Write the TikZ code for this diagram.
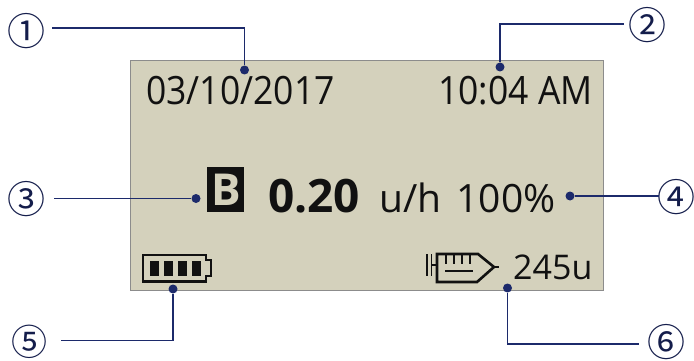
\documentclass[tikz,border=0pt]{standalone}
\usepackage{fontspec}
\setmainfont{Open Sans}
\newfontfamily\narrowfont[FakeStretch=0.91]{Open Sans}
\newfontfamily\circfont{Noto Sans CJK KR}
\definecolor{panel}{HTML}{D4D1BC}
\definecolor{navy}{HTML}{1C2A6B}
\definecolor{ink}{HTML}{111111}
\tikzset{
  callout/.style={font=\circfont\fontsize{38}{38}\selectfont,text=navy!70!black,inner sep=0pt,anchor=center},
  dotnode/.style={circle,fill=navy,inner sep=0pt,minimum size=9pt},
  leader/.style={draw=navy,line width=1.6pt},
  lcd/.style={inner sep=0pt,text=ink,anchor=base west,font=\narrowfont\fontsize{39}{39}\selectfont},
  icon/.style={draw=ink,line width=2.3pt},
}
\begin{document}
\begin{tikzpicture}[x=1pt,y=-1pt]
\useasboundingbox (0,0) rectangle (694,361);
\fill[panel,draw=black!45,line width=0.7pt] (130,60) rectangle (603.5,290);
\node[lcd] (date) at (146,105) {03/10/2017};
\node[lcd] (time) at (438,105) {10:04 AM};
\node[fill=ink,inner sep=0pt,minimum width=37pt,minimum height=45pt] (bbox) at (225.5,189.5) {};
\node[inner sep=0pt,text=panel,font=\bfseries\fontsize{44}{44}\selectfont] (b) at (226,190) {B};
\node[lcd,font=\bfseries\fontsize{46}{46}\selectfont] (rate) at (268,212) {0.20};
\node[lcd,font=\fontsize{39}{39}\selectfont] (unit) at (379,212) {u/h\hspace{5pt} 100\%};
\node[lcd,font=\fontsize{34}{34}\selectfont] (res) at (513,279) {245u};
% battery
\draw[icon] (143,255) -- (206,255) -- (206,260) -- (211,260) -- (211,276) -- (206,276) -- (206,281.5) -- (143,281.5) -- cycle;
\foreach \x in {150,164,178,192}{\fill[ink] (\x,261) rectangle +(9,15);}
% syringe
\draw[icon,line width=2.8pt] (427,254) -- (427,276);
\draw[icon,line width=1.8pt] (431.5,254) -- (431.5,276);
\draw[icon] (431,265) -- (437,265);
\draw[icon,line width=2.6pt,line join=miter] (437,254) -- (478,254) -- (494,267) -- (477,282) -- (437,282) -- cycle;
\draw[icon,line width=2.6pt] (494,267) -- (499,267);
\foreach \x in {446,454,462,470}{\draw[icon,line width=2pt] (\x,254) -- (\x,264);}
\draw[icon,line width=2.6pt] (445,271) -- (473,271);
% dots
\node[dotnode] (d1) at (244.5,70) {};
\node[dotnode] (d2) at (500,67) {};
\node[dotnode] (d3) at (196,198.5) {};
\node[dotnode] (d4) at (570,196) {};
\node[dotnode] (d5) at (173,289) {};
\node[dotnode] (d6) at (507.5,288) {};
% labels
\node[callout] (l1) at (26,31) {①};
\node[callout] (l2) at (647,25) {②};
\node[callout] (l3) at (26,199) {③};
\node[callout] (l4) at (676,197) {④};
\node[callout,font=\circfont\fontsize{36}{36}\selectfont] (l5) at (30,342) {⑤};
\node[callout] (l6) at (666,342) {⑥};
% leaders
\draw[leader] ([shift={(7,-3)}]l1.east) -| (d1);
\draw[leader] ([shift={(-4,-1)}]l2.west) -| (d2);
\draw[leader] ([shift={(9,-0.5)}]l3.east) -- (d3);
\draw[leader] ([shift={(2,-1)}]l4.west) -- (d4);
\draw[leader] ([shift={(13,-1.5)}]l5.east) -| (d5);
\draw[leader] ([shift={(-8,2)}]l6.west) -| (d6);
\end{tikzpicture}
\end{document}
